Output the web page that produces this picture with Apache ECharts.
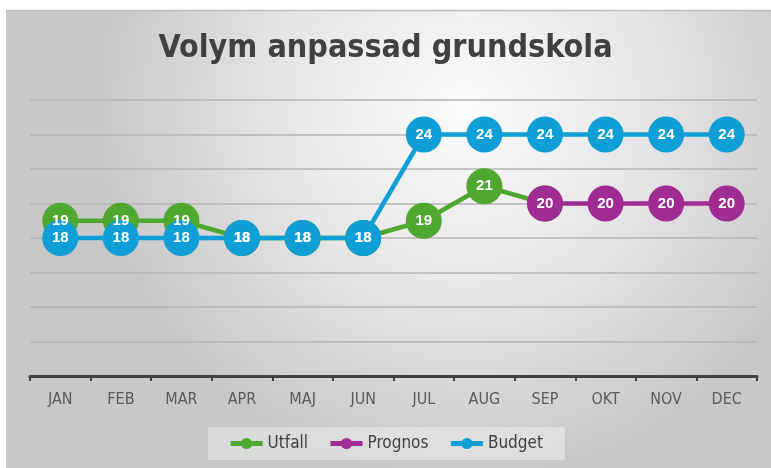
<!DOCTYPE html>
<html><head><meta charset="utf-8">
<script src="https://cdn.jsdelivr.net/npm/echarts@6/dist/echarts.min.js"></script>
<style>html,body{margin:0;padding:0;background:#fff}#c{width:771px;height:468px}</style>
</head><body><div id="c"></div>
<script>
const categories = ['JAN','FEB','MAR','APR','MAJ','JUN','JUL','AUG','SEP','OKT','NOV','DEC'];
const utfall = [19,19,19,18,18,18,19,21,20,null,null,null];
const prognos = [null,null,null,null,null,null,null,null,20,20,20,20];
const budget = [18,18,18,18,18,18,24,24,24,24,24,24];
const yTicks = {min:10, max:26, interval:2};

const narrow = '"Liberation Sans Narrow","DejaVu Sans Condensed",sans-serif';
const chart = echarts.init(document.getElementById('c'), null, {renderer:'canvas'});
function ser(name, data, color, hideLabelAt){
  const d = data.map((v,i)=> (hideLabelAt && hideLabelAt.includes(i)) ? {value:v, label:{show:false}} : v);
  return {
    name, type:'line', data:d, symbol:'circle', symbolSize:36,
    itemStyle:{color}, lineStyle:{color, width:4.5},
    label:{show:true, position:'inside', color:'#fff', fontWeight:'bold', fontSize:15, fontFamily:'"Liberation Sans",Arial,sans-serif'},
    emphasis:{disabled:true}, animation:false
  };
}
chart.setOption({
  animation:false,
  graphic:[
    {type:'rect', z:-10, silent:true, shape:{x:6,y:10,width:765,height:458},
     style:{fill:new echarts.graphic.RadialGradient(0.6,0.22,0.8,[{offset:0,color:'#fbfbfb'},{offset:0.5,color:'#e6e6e6'},{offset:1,color:'#c8c8c8'}])}},
    {type:'line', z:-9, silent:true, shape:{x1:6,y1:10.5,x2:771,y2:10.5}, style:{stroke:'#bdbdbd', lineWidth:1.5}}
  ],
  title:{text:'Volym anpassad grundskola', left:'center', top:28,
    textStyle:{fontFamily:narrow, fontWeight:'bold', fontSize:32, color:'#404040'}},
  grid:{left:30, right:14, top:100, bottom:92},
  xAxis:{type:'category', data:categories, boundaryGap:true,
    axisLine:{lineStyle:{color:'#404040', width:3}},
    axisTick:{show:true, length:5, lineStyle:{color:'#404040', width:2}},
    axisLabel:{color:'#595959', fontSize:16, fontFamily:narrow, margin:16}},
  yAxis:{type:'value', min:yTicks.min, max:yTicks.max, interval:yTicks.interval,
    axisLabel:{show:false}, axisLine:{show:false}, axisTick:{show:false},
    splitLine:{lineStyle:{color:'#b4b4b4', width:1.5}}},
  legend:{bottom:8, left:'center', data:['Utfall','Prognos','Budget'],
    backgroundColor:'rgba(255,255,255,0.35)', padding:[8,22,8,20],
    itemWidth:32, itemHeight:14, itemGap:20,
    lineStyle:{width:5},
    textStyle:{color:'#404040', fontSize:17, fontFamily:narrow}},
  series:[ser('Utfall',utfall,'#4EA72E',[8]), ser('Prognos',prognos,'#A02B93'), ser('Budget',budget,'#0F9ED5')]
});
</script></body></html>
